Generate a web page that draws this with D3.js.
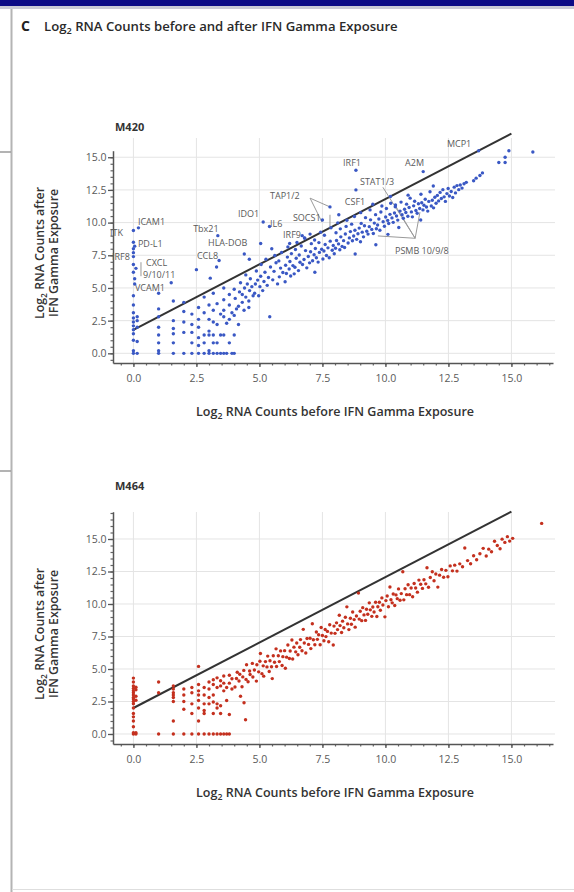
<!DOCTYPE html>
<html>
<head>
<meta charset="utf-8">
<script src="https://cdn.jsdelivr.net/npm/d3@7"></script>
<style>
    body { margin: 0; background: #fff; }
    svg { display: block; font-family: "Open Sans", "Noto Sans", sans-serif; }
</style>
</head>
<body>
<svg id="chart" width="574" height="892"></svg>
<script>
// tick values shared by both panels
const xTicks = [0, 2.5, 5, 7.5, 10, 12.5, 15];
const yTicks = [0, 2.5, 5, 7.5, 10, 12.5, 15];

// reference line (before, after) end points
const m420Line = [[0, 1.8], [15, 16.8]];
const m464Line = [[0, 2.0], [15, 17.1]];

// M420: [log2 before, log2 after]
const m420Points = [
    // low counts
    [0,0],[0,0.2],[0,1.0],[0,1.5],[0,1.8],[0,2.1],[0,2.4],[0,2.7],[0,3.1],[0,3.7],[0,4.4],
    [0.15,0],[0.15,0.9],[0.15,2.0],[0.15,2.5],[0.15,2.8],
    [0.05,5.3],[0.05,5.7],[0,6.2],[0.1,6.5],[0,6.8],[0,7.4],[0,7.7],[0,8.0],[0.05,8.2],[0,8.5],[0,9.4],[0.2,9.6],
    [1.0,0],[1.0,0.2],[1.0,0.8],[1.0,1.4],[1.0,2.0],[1.0,2.8],[1.0,3.4],[1.0,4.6],
    [1.585,0],[1.585,0.8],[1.585,1.5],[1.585,1.9],[1.585,2.5],[1.585,4.0],[1.5,5.4],
    [2.0,0],[2.0,1.6],[2.0,2.4],[2.0,3.2],[2.0,3.9],
    [2.32,0],[2.32,0.8],[2.32,1.6],[2.32,2.2],[2.32,3.0],
    [2.585,0],[2.585,0.6],[2.585,1.2],[2.585,2.0],[2.585,2.6],[2.585,3.5],[2.5,6.4],
    [2.807,0],[2.807,0.8],[2.807,1.4],[2.807,3.1],[2.807,4.3],
    [3.0,0],[3.0,0.2],[3.0,1.4],[3.0,1.7],[3.0,2.6],[3.0,3.7],[3.05,5.75],
    [3.17,0],[3.17,0.8],[3.17,1.4],[3.17,2.4],[3.17,3.3],[3.17,4.6],
    [3.32,0],[3.32,0.8],[3.32,2.2],[3.32,3.8],[3.46,1.4],[3.46,3.0],[3.46,0],
    [3.35,9.0],[3.4,7.1],[3.3,6.6],
    [3.585,0],[3.585,1.4],[3.585,2.8],[3.585,3.3],[3.585,4.1],[3.585,5.0],
    [3.7,0],[3.7,2.3],[3.807,0.8],[3.807,2.6],[3.807,3.7],[3.807,4.5],[3.91,0],[3.91,3.1],
    // cloud
    [4.0,4.9],[4.04,4.2],[4.09,3.4],[4.0,2.9],[4.0,1.4],[4.0,0],
    [4.17,2.2],[4.17,3.6],[4.21,4.7],[4.25,5.4],[4.32,3.9],[4.32,4.5],
    [4.39,3.3],[4.41,5.0],[4.46,4.3],[4.46,6.0],[4.52,5.3],[4.58,3.5],[4.58,4.0],[4.61,4.8],
    [4.64,5.7],[4.7,5.1],[4.75,4.4],[4.81,4.6],[4.84,5.3],[4.88,6.3],[4.93,5.6],[4.97,4.4],
    [5.02,5.1],[5.05,5.9],[5.07,6.8],[5.13,4.8],[5.18,5.5],[5.22,6.2],[5.26,7.2],[5.31,5.2],
    [5.36,5.8],[5.41,2.8],[5.44,6.6],[5.49,8.0],
    [4.4,7.6],[4.6,7.2],[5.05,8.4],[5.15,10.05],[5.4,9.7],[6.2,8.4],[6.7,9.0],
    // main band
    [5.53,5.62],[5.58,6.27],[5.66,6.93],[5.61,7.48],[5.72,5.31],[5.79,5.85],[5.84,6.52],[5.77,7.07],[5.88,7.71],[5.93,6.18],
    [6.02,5.47],[6.07,6.11],[6.04,6.74],[6.11,7.36],[6.13,8.14],[6.18,6.45],[6.24,5.92],[6.21,7.02],[6.27,7.63],[6.33,6.71],
    [6.38,6.08],[6.41,6.58],[6.46,7.27],[6.43,7.94],[6.49,8.48],[6.55,6.33],[6.61,6.97],[6.58,7.52],[6.66,8.21],[6.71,6.79],
    [6.77,7.18],[6.83,7.86],[6.79,8.83],[6.88,6.54],[6.94,7.41],[6.99,6.92],[7.03,7.77],[7.06,8.39],[7.01,9.12],[7.11,7.08],
    [7.17,7.54],[7.22,8.02],[7.19,8.67],[7.26,7.31],[7.33,6.98],[7.38,7.72],[7.36,8.47],[7.43,9.27],[7.47,7.96],[7.52,7.21],
    [7.56,7.83],[7.61,8.32],[7.58,9.03],[7.66,7.48],[7.72,8.07],[7.77,7.31],[7.81,8.58],[7.84,9.61],[7.89,7.88],[7.93,8.25],
    [7.97,7.62],[8.02,8.04],[8.06,8.63],[8.04,9.22],[8.11,9.98],[8.14,8.37],[8.19,7.92],[8.23,8.91],[8.21,9.52],[8.28,8.18],
    [8.34,8.62],[8.38,8.09],[8.41,9.13],[8.44,9.71],[8.47,10.18],[8.52,8.44],[8.57,8.83],[8.61,9.31],[8.66,9.88],[8.69,8.61],
    [8.74,8.97],[8.79,9.42],[8.77,10.47],[8.86,8.72],[8.91,9.15],[8.96,9.58],[9.01,8.53],[9.04,9.94],[9.02,10.76],[9.08,9.27],
    [9.13,8.91],[9.17,9.76],[9.21,10.38],[9.26,9.34],[9.31,9.12],[9.36,9.69],[9.41,10.21],[9.39,10.97],[9.46,9.48],[9.52,9.17],
    [9.56,9.96],[9.61,10.61],[9.64,9.53],[9.69,9.82],[9.74,10.28],[9.78,9.41],[9.82,10.81],[9.86,11.27],[9.91,10.06],[9.96,9.72],
    [10.01,10.43],[10.04,11.08],[10.09,10.17],[10.13,9.93],[10.18,10.63],[10.21,11.48],[10.26,10.36],[10.31,10.02],[10.36,10.74],[10.39,11.21],
    [10.44,10.51],[10.49,10.19],[10.53,9.62],[10.58,10.88],[10.62,11.57],[10.66,10.61],[10.71,10.33],[10.76,11.02],[10.81,10.77],[10.84,11.41],
    [10.89,10.49],[10.94,11.16],[10.98,11.87],[11.03,10.82],[11.07,10.44],[11.12,11.28],[11.16,11.63],[11.21,10.93],[11.26,10.71],[11.31,11.44],
    [11.36,11.08],[11.41,12.17],[11.44,11.52],[11.49,10.97],[11.53,11.33],[11.58,11.79],[11.63,11.19],[11.68,10.88],[11.72,11.62],[11.77,12.36],
    [11.82,11.27],[11.86,11.71],[11.91,11.13],[11.96,11.94],[12.01,11.48],[12.06,12.08],[12.11,11.66],[12.17,12.31],[12.22,11.84],[12.28,12.52],
    [12.33,11.97],[12.38,11.62],[12.44,12.22],[12.49,12.61],[12.54,12.03],[12.61,12.38],[12.67,11.92],[12.73,12.71],[12.78,12.27],[12.84,12.83],
    [12.91,12.52],[12.97,12.88],[13.04,12.64],[13.12,12.97],[13.21,13.08],
    [8.15,10.6],[9.5,11.4],[10.9,12.1],[11.9,12.8],[8.8,7.6],[10.1,9.1],[11.4,10.2],[7.2,6.2],[9.62,8.3],
    // labelled genes and the top end
    [7.5,10.2],[7.8,11.2],[6.8,8.8],[8.83,12.5],[8.83,14.0],[11.5,13.9],[10.2,12.0],[10.4,11.35],
    [13.5,13.2],[13.6,13.4],[13.75,13.6],[13.85,13.8],
    [13.7,15.5],[14.5,14.6],[14.75,14.6],[14.75,15.0],[14.9,15.5],[15.85,15.4]
];

// M464: [log2 before, log2 after]
const m464Points = [
    // low counts
    [0,0],[0,0.1],[0.1,0],[0.1,0.1],[0,0.56],[0,1.0],[0,1.32],[0,1.58],[0,2.0],[0,2.32],[0,2.5],[0,2.7],[0,2.81],[0,3.0],
    [0,3.17],[0,3.32],[0,3.5],[0,3.7],[0,4.0],[0,4.3],[0.1,2.6],[0.1,2.9],[0.1,3.4],[0.1,3.6],
    [1.0,0],[1.0,3.17],[1.0,4.0],
    [1.585,0],[1.585,1.0],[1.585,2.5],[1.585,2.81],[1.585,3.0],[1.585,3.17],[1.585,3.46],[1.585,3.7],
    [2.0,0],[2.0,1.9],[2.0,2.5],[2.0,3.0],[2.0,3.46],
    [2.32,0],[2.32,1.58],[2.32,2.32],[2.32,3.17],[2.32,3.58],
    [2.585,0],[2.585,1.0],[2.585,2.0],[2.585,2.58],[2.585,3.0],[2.585,3.32],[2.585,3.81],[2.585,5.2],
    [2.807,0],[2.807,1.58],[2.807,1.81],[2.807,2.32],[2.807,3.0],[2.807,3.58],
    [3.0,0],[3.0,2.32],[3.0,2.81],[3.0,3.46],[3.0,4.0],
    [3.17,0],[3.17,1.58],[3.17,2.46],[3.17,3.0],[3.17,3.81],[3.17,4.17],
    [3.32,0],[3.32,2.0],[3.32,2.32],[3.32,3.58],[3.32,4.32],
    [3.46,0],[3.46,1.58],[3.46,2.17],[3.46,3.7],[3.46,4.09],
    [3.585,0],[3.585,3.32],[3.585,3.91],[3.585,4.46],
    [3.7,0],[3.7,2.58],[3.7,3.58],[3.807,0],[3.807,1.5],[3.807,3.91],[3.807,4.52],[3.91,3.46],[3.91,4.25],
    [4.45,1.1],[4.39,2.4],[4.25,2.9],
    // main band
    [4.03,3.61],[4.09,4.27],[4.12,4.75],[4.19,4.08],[4.22,4.59],[4.31,3.63],[4.34,4.39],[4.38,4.89],[4.47,4.2],[4.49,5.33],
    [4.55,4.02],[4.61,4.85],[4.63,4.58],[4.72,5.43],[4.74,4.38],[4.8,4.92],[4.88,4.07],[4.9,5.33],[4.97,4.78],[5.02,5.6],
    [5.04,6.19],[5.1,4.64],[5.15,5.24],[5.17,4.45],[5.24,5.57],[5.3,5.16],[5.33,5.99],[5.39,4.81],[5.42,5.63],[5.48,5.17],
    [5.51,4.26],[5.55,6.02],[5.6,5.52],[5.66,6.55],[5.68,5.19],[5.75,6.02],[5.79,5.57],[5.84,6.39],[5.9,5.27],[5.93,5.95],
    [6.0,6.41],[6.03,5.06],[6.08,5.91],[6.13,6.85],[6.19,5.81],[6.22,6.38],[6.29,7.23],[6.32,5.77],[6.37,6.68],[6.44,6.32],
    [6.48,7.0],[6.53,6.09],[6.6,6.67],[6.63,7.26],[6.69,6.4],[6.74,8.05],[6.78,7.0],[6.84,6.23],[6.89,7.34],[6.95,6.89],
    [7.01,7.37],[7.04,6.57],[7.1,8.48],[7.14,7.25],[7.2,6.87],[7.26,7.85],[7.3,7.28],[7.35,7.63],[7.41,6.87],[7.45,8.19],
    [7.5,7.58],[7.56,7.17],[7.61,8.04],[7.64,7.49],[7.7,7.89],[7.75,7.09],[7.79,8.4],[7.85,7.76],[7.93,6.85],[7.96,8.3],
    [8.0,7.74],[8.06,8.55],[8.1,8.03],[8.17,9.13],[8.2,8.34],[8.26,7.81],[8.3,8.68],[8.35,8.17],[8.41,8.98],[8.47,9.78],
    [8.5,8.47],[8.55,8.03],[8.61,8.9],[8.65,8.44],[8.7,9.39],[8.76,8.8],[8.8,8.22],[8.85,9.08],[8.93,10.84],[8.96,8.84],
    [9.0,9.44],[9.06,8.72],[9.1,9.72],[9.15,9.16],[9.21,8.74],[9.25,9.6],[9.3,9.21],[9.36,10.09],[9.4,9.55],[9.46,9.05],
    [9.5,9.77],[9.55,9.39],[9.61,10.13],[9.66,9.04],[9.7,9.79],[9.76,10.14],[9.8,9.52],[9.86,10.47],[9.9,9.92],[9.98,9.01],
    [10.02,10.26],[10.07,10.62],[10.12,9.79],[10.18,11.31],[10.22,10.33],[10.27,10.09],[10.31,10.77],[10.37,9.88],[10.42,10.7],[10.47,10.41],
    [10.52,11.16],[10.58,10.29],[10.63,10.8],[10.69,12.48],[10.73,10.32],[10.78,11.17],[10.84,10.72],[10.9,11.48],[10.96,10.72],[11.02,11.23],
    [11.08,10.56],[11.14,11.58],[11.2,11.23],[11.27,10.91],[11.33,11.84],[11.4,11.52],[11.47,11.2],[11.53,11.86],[11.6,11.55],[11.65,12.79],
    [11.71,11.29],[11.78,12.04],[11.86,12.48],[11.93,11.79],[12.0,12.31],[12.08,11.3],[12.15,12.22],[12.23,12.65],[12.31,12.06],[12.4,12.59],
    [12.48,12.1],[12.57,12.93],[12.66,12.55],[12.75,12.99],[12.84,12.53],[12.95,13.09],[13.06,12.87],[13.15,14.31],[13.26,13.34],[13.38,13.1],
    [13.5,13.71],[13.62,13.4],[13.75,13.86],[13.88,14.28],[14.0,13.69],[14.1,14.22],[14.21,14.02],[14.33,14.83],[14.44,14.5],[14.55,14.25],
    [14.63,14.99],[14.74,14.74],[14.84,15.18],[14.93,14.84],[15.05,15.05],[16.2,16.2]
];

// gene labels for M420: [text, before, after]
const m420Labels = [
    ['ITK', -0.93, 8.97], ['ICAM1', 0.18, 9.82], ['PD-L1', 0.18, 8.13], ['IRF8', -0.85, 7.14],
    ['CXCL', 0.5, 6.68], ['9/10/11', 0.38, 5.76], ['VCAM1', 0.06, 4.77],
    ['Tbx21', 2.37, 9.28], ['IDO1', 4.15, 10.43], ['IL6', 5.42, 9.66], ['HLA-DOB', 2.96, 8.2],
    ['CCL8', 2.52, 7.2], ['TAP1/2', 5.42, 11.8], ['SOCS1', 6.33, 10.12], ['IRF9', 5.94, 8.82],
    ['IRF1', 8.32, 14.33], ['A2M', 10.78, 14.33], ['STAT1/3', 8.99, 12.88], ['CSF1', 8.39, 11.35],
    ['MCP1', 12.44, 15.78], ['PSMB 10/9/8', 10.38, 7.6]
];

// leader lines for the M420 labels: [[x1, y1], [x2, y2]]
const m420Leaders = [
    [[0.3, 6.97], [0.3, 5.9]],
    [[7.01, 11.87], [7.8, 11.2]],
    [[7.01, 11.87], [7.48, 10.05]],
    [[7.8, 10.6], [7.8, 9.6]],
    [[11.18, 8.8], [9.9, 12.7]],
    [[11.18, 8.8], [10.38, 11.35]],
    [[11.18, 8.8], [11.37, 10.8]],
    [[11.18, 8.8], [9.7, 8.98]]
];

const svg = d3.select('#chart');

// page frame
svg.append('rect').attr('x', 0).attr('y', 0).attr('width', 574).attr('height', 6).attr('fill', '#0b0b86');
svg.append('rect').attr('x', 0).attr('y', 6).attr('width', 574).attr('height', 3).attr('fill', '#c9cbd6');
svg.append('line').attr('x1', 11.5).attr('x2', 11.5).attr('y1', 9).attr('y2', 892)
    .attr('stroke', '#b4b4b4').attr('stroke-width', 2);
[152, 471].forEach(yy => {
    svg.append('line').attr('x1', 0).attr('x2', 11).attr('y1', yy).attr('y2', yy)
        .attr('stroke', '#9a9a9a').attr('stroke-width', 1.5);
});
svg.append('line').attr('x1', 12).attr('x2', 574).attr('y1', 889.5).attr('y2', 889.5)
    .attr('stroke', '#dedede').attr('stroke-width', 1);

// scale font size so text spans a target width
function fitWidth(text, target) {
    const w = text.node().getComputedTextLength();
    const fs = parseFloat(text.attr('font-size'));
    text.attr('font-size', (fs * target / w).toFixed(2));
}

function log2Text(sel, rest) {
    sel.append('tspan').text('Log');
    sel.append('tspan').attr('dy', 3).attr('font-size', '0.7em').text('2');
    sel.append('tspan').attr('dy', -3).text(rest);
}

// figure title
svg.append('text').attr('x', 21).attr('y', 31).attr('font-size', 14).attr('font-weight', 700)
    .attr('fill', '#222').text('C');
const title = svg.append('text').attr('x', 44).attr('y', 31).attr('font-size', 12)
    .attr('font-weight', 600).attr('fill', '#2a2a2a');
log2Text(title, ' RNA Counts before and after IFN Gamma Exposure');
fitWidth(title, 354);

const xScale = d3.scaleLinear().domain([-0.81, 16.65]).range([113, 553]);

function drawPanel(opt) {
    const y = d3.scaleLinear().domain(opt.yDomain).range([opt.axisY, opt.axisTop]);
    const x = xScale;
    const g = svg.append('g');

    // grid
    g.selectAll('.vgrid').data(xTicks).enter().append('line')
        .attr('x1', d => x(d)).attr('x2', d => x(d))
        .attr('y1', opt.gridTop).attr('y2', opt.axisY)
        .attr('stroke', '#e4e4e4').attr('stroke-width', 1);
    g.selectAll('.hgrid').data(yTicks).enter().append('line')
        .attr('x1', x.range()[0]).attr('x2', 555)
        .attr('y1', d => y(d)).attr('y2', d => y(d))
        .attr('stroke', '#e4e4e4').attr('stroke-width', 1);

    // minor ticks
    const xMinor = d3.range(-0.5, 16.6, 0.5);
    const yMinor = d3.range(-0.5, opt.yDomain[1], 0.5);
    g.append('g').attr('transform', `translate(0,${opt.axisY})`)
        .call(d3.axisBottom(x).tickValues(xMinor).tickSize(2.5).tickSizeOuter(0).tickFormat(''))
        .call(a => a.select('.domain').remove())
        .call(a => a.selectAll('line').attr('stroke', '#666').attr('stroke-width', 1.2));
    g.append('g').attr('transform', `translate(${x.range()[0]},0)`)
        .call(d3.axisLeft(y).tickValues(yMinor).tickSize(2.5).tickSizeOuter(0).tickFormat(''))
        .call(a => a.select('.domain').remove())
        .call(a => a.selectAll('line').attr('stroke', '#666').attr('stroke-width', 1.2));

    // major axes
    const xa = g.append('g').attr('transform', `translate(0,${opt.axisY})`)
        .call(d3.axisBottom(x).tickValues(xTicks).tickSize(4).tickSizeOuter(0).tickPadding(8)
            .tickFormat(d3.format('.1f')));
    const ya = g.append('g').attr('transform', `translate(${x.range()[0]},0)`)
        .call(d3.axisLeft(y).tickValues(yTicks).tickSize(5).tickSizeOuter(0).tickPadding(1.5)
            .tickFormat(d3.format('.1f')));
    [xa, ya].forEach(a => {
        a.select('.domain').attr('stroke', '#555').attr('stroke-width', 1.5);
        a.selectAll('.tick line').attr('stroke', '#555').attr('stroke-width', 1.3);
        a.selectAll('.tick text').attr('fill', '#5a5a5a').attr('font-size', 10.5)
            .attr('font-family', '"Open Sans", sans-serif');
    });

    // panel name
    g.append('text').attr('x', 115).attr('y', opt.nameY).attr('font-size', 11)
        .attr('font-weight', 700).attr('fill', '#333').text(opt.name);

    // axis titles
    const xt = g.append('text').attr('x', 335).attr('y', opt.axisY + 53).attr('text-anchor', 'middle')
        .attr('font-size', 10.5).attr('font-weight', 600).attr('fill', '#333');
    log2Text(xt, ' RNA Counts before IFN Gamma Exposure');
    fitWidth(xt, 278);

    const yt = g.append('text').attr('transform', `translate(44,${opt.yTitleC}) rotate(-90)`)
        .attr('text-anchor', 'middle').attr('font-size', 10.5).attr('font-weight', 600).attr('fill', '#333');
    log2Text(yt, ' RNA Counts after');
    fitWidth(yt, 132);
    g.append('text').attr('transform', `translate(58,${opt.yTitleC}) rotate(-90)`)
        .attr('text-anchor', 'middle').attr('font-size', parseFloat(yt.attr('font-size')))
        .attr('font-weight', 600).attr('fill', '#333').text('IFN Gamma Exposure');

    // reference line
    g.append('line')
        .attr('x1', x(opt.line[0][0])).attr('y1', y(opt.line[0][1]))
        .attr('x2', x(opt.line[1][0])).attr('y2', y(opt.line[1][1]))
        .attr('stroke', '#333').attr('stroke-width', 2);

    // leader lines + labels
    if (opt.leaders) {
        g.selectAll('.leader').data(opt.leaders).enter().append('line')
            .attr('x1', d => x(d[0][0])).attr('y1', d => y(d[0][1]))
            .attr('x2', d => x(d[1][0])).attr('y2', d => y(d[1][1]))
            .attr('stroke', '#9a9a9a').attr('stroke-width', 1);
    }
    if (opt.labels) {
        g.selectAll('.lab').data(opt.labels).enter().append('text')
            .attr('x', d => x(d[1])).attr('y', d => y(d[2]))
            .attr('font-size', 9).attr('fill', '#5a5a5a')
            .attr('font-family', '"Open Sans", sans-serif')
            .text(d => d[0]);
    }

    // points
    g.selectAll('.pt').data(opt.points).enter().append('circle')
        .attr('cx', d => x(d[0])).attr('cy', d => y(d[1]))
        .attr('r', 1.7).attr('fill', opt.color);
}

drawPanel({
    name: 'M420', nameY: 131, yDomain: [-0.74, 15.5], axisY: 363, axisTop: 150.7, gridTop: 138,
    yTitleC: 253, line: m420Line, points: m420Points, color: '#3a58c4',
    labels: m420Labels, leaders: m420Leaders
});
drawPanel({
    name: 'M464', nameY: 490, yDomain: [-0.77, 17.1], axisY: 744, axisTop: 511.7, gridTop: 512,
    yTitleC: 634, line: m464Line, points: m464Points, color: '#c4301e'
});
</script>
</body>
</html>
